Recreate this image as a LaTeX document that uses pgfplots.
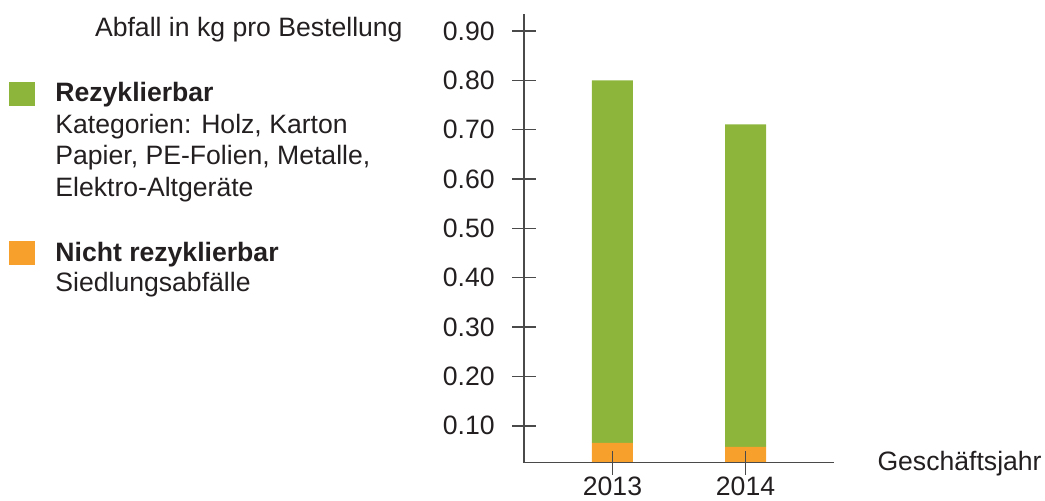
\documentclass[border=0pt]{standalone}
\usepackage{pgfplots}
\pgfplotsset{compat=1.18}
\usepackage{fontspec}
\setmainfont{Liberation Sans}
\definecolor{recgreen}{HTML}{8DB53C}
\definecolor{nonorange}{HTML}{F7A02B}
\definecolor{txt}{HTML}{231F20}
\definecolor{axgray}{HTML}{4A4A4A}

\begin{document}
\begin{tikzpicture}[font=\fontsize{13.3}{15.75}\selectfont, text=txt]
\useasboundingbox (0,0) rectangle (522.5pt,250pt);
\begin{axis}[
  scale only axis,
  width=155pt, height=224.25pt,
  at={(262pt,18.75pt)}, anchor=south west,
  xmin=-0.665, xmax=1.665,
  ymin=0.0254, ymax=0.9345,
  axis x line=bottom, axis y line=left,
  axis line style={-, axgray, line width=0.8pt},
  axis on top,
  xtick={0,1}, xticklabels={2013,2014},
  ytick={0.1,0.2,0.3,0.4,0.5,0.6,0.7,0.8,0.9},
  yticklabel={\pgfmathprintnumber[fixed,fixed zerofill,precision=2]{\tick}},
  /pgf/number format/assume math mode=true,
  tick align=center,
  major tick length=12pt,
  tick style={axgray, line width=0.8pt},
  yticklabel style={anchor=east, inner sep=0pt, xshift=-8.5pt},
  xticklabel style={anchor=north, inner sep=0pt, yshift=-1pt},
  ybar stacked, bar width=20.5pt, bar shift=0pt,
]
  % nicht rezyklierbar (unten)
  \addplot[fill=nonorange, draw=none] coordinates {(0,0.065) (1,0.057)};
  % rezyklierbar
  \addplot[fill=recgreen, draw=none] coordinates {(0,0.735) (1,0.654)};
\end{axis}

\node[anchor=base east, inner sep=0pt] at (201.5pt,231.6pt) {Abfall in kg pro Bestellung};
\node[anchor=base east, inner sep=0pt] at (521pt,15pt) {Geschäftsjahr};

% Legende
\fill[recgreen] (4.5pt,197pt) rectangle (17.5pt,209pt);
\fill[nonorange] (4.5pt,117.6pt) rectangle (17.5pt,129.5pt);
\node[anchor=base west, inner sep=0pt] at (27.5pt,199.15pt) {\bfseries Rezyklierbar};
\node[anchor=base west, inner sep=0pt] at (27.5pt,183.5pt) {Kategorien: Holz, Karton};
\node[anchor=base west, inner sep=0pt] at (27.5pt,168pt) {Papier, PE-Folien, Metalle,};
\node[anchor=base west, inner sep=0pt] at (27.5pt,151.65pt) {Elektro-Altgeräte};
\node[anchor=base west, inner sep=0pt] at (27.5pt,119.15pt) {\bfseries Nicht rezyklierbar};
\node[anchor=base west, inner sep=0pt] at (27.5pt,104.15pt) {Siedlungsabfälle};
\end{tikzpicture}
\end{document}
